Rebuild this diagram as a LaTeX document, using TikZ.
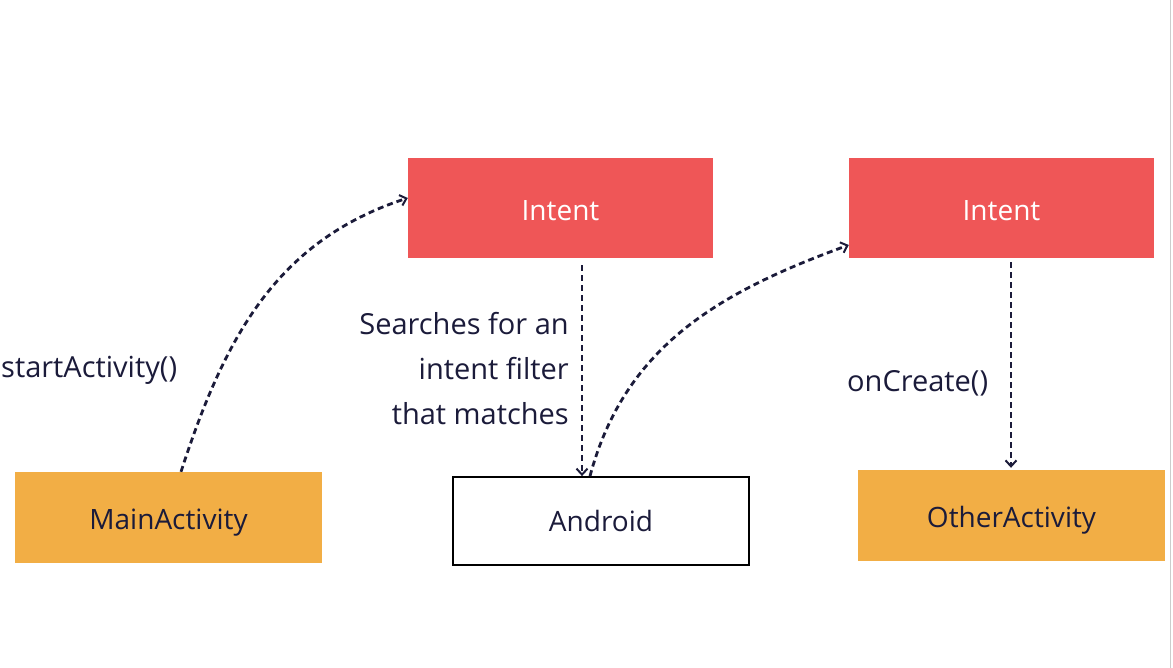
\documentclass[tikz,border=0pt]{standalone}
\usepackage{fontspec}
\setmainfont{Open Sans}
\usetikzlibrary{arrows.meta}
\definecolor{intentred}{HTML}{EF5657}
\definecolor{actorange}{HTML}{F2AE45}
\definecolor{navy}{HTML}{1B1B3A}
\begin{document}
\begin{tikzpicture}[x=1pt,y=1pt,
  box/.style={minimum width=305pt,minimum height=100pt,inner sep=0pt,font=\fontsize{28}{32}\selectfont},
  intentbox/.style={box,fill=intentred,text=white,text height=25pt,text depth=0pt},
  actbox/.style={box,fill=actorange,text=navy,minimum width=307pt,minimum height=91pt,text height=24.5pt,text depth=0pt},
  andbox/.style={box,draw=black,line width=1.8pt,text=navy,minimum width=296pt,minimum height=88pt},
  lbl/.style={text=navy,font=\fontsize{29}{45}\selectfont,inner sep=0pt},
  flow/.style={draw=navy,line width=2.8pt,dash pattern=on 6pt off 4pt,-{Straight Barb[length=6pt,width=11pt,line width=2pt]}}
]
\useasboundingbox (0,0) rectangle (1173,668);
\fill[white] (0,0) rectangle (1173,668);
\draw[gray!40,line width=1pt] (1170.5,0) -- (1170.5,668);
\node[intentbox] (i1) at (560.5,460) {Intent};
\node[intentbox] (i2) at (1001.5,460) {Intent};
\node[actbox] (main) at (168.5,150.5) {MainActivity};
\node[andbox] (and) at (601,147) {Android};
\node[actbox] (other) at (1011.5,152.5) {OtherActivity};
\node[lbl,anchor=west] (l1) at (1,298) {startActivity()};
\node[lbl,anchor=east,align=right] (l2) at (569,299) {Searches for an\\intent filter\\that matches};
\node[lbl,anchor=west] (l3) at (847,285) {onCreate()};
\coordinate (a1s) at (main.north -| 181,0);
\coordinate (a1e) at (i1.west |- 0,470);
\coordinate (a2s) at ([yshift=-7pt]i1.south -| 582,0);
\coordinate (a2e) at (and.north -| 582,0);
\coordinate (a3s) at (and.north -| 590,0);
\coordinate (a3e) at (i2.west |- 0,423);
\coordinate (a4s) at ([yshift=-4pt]i2.south -| 1011,0);
\coordinate (a4e) at ([yshift=2pt]other.north -| 1011,0);
\draw[flow] (a1s) to[out=72,in=198] (a1e);
\draw[flow] (a2s) -- (a2e);
\draw[flow] (a3s) to[out=75,in=200] (a3e);
\draw[flow] (a4s) -- (a4e);
\end{tikzpicture}
\end{document}
